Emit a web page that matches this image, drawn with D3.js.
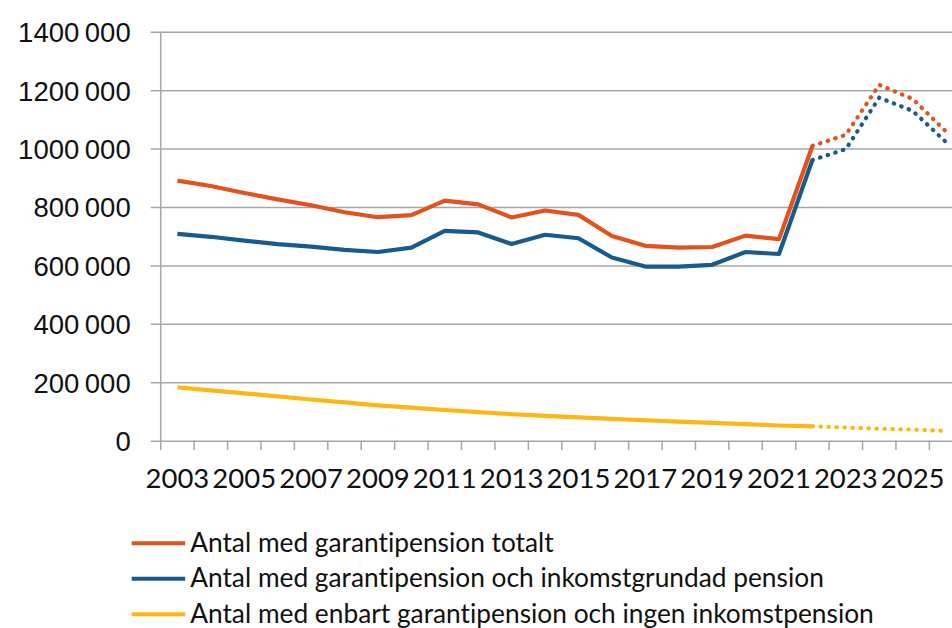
<!DOCTYPE html>
<html>
<head>
<meta charset="utf-8">
<script src="https://cdn.jsdelivr.net/npm/d3@7"></script>
<style>
  body { margin: 0; background: #fff; }
  svg { display: block; font-family: Lato, "Open Sans", sans-serif; font-variant-ligatures: none; }
</style>
</head>
<body>
<script>
// years on the category axis, 2003-2026 (2022 onward is forecast, drawn dotted)
var years = d3.range(2003, 2027);
var forecastFrom = 2022;

var totalt = [890000, 872000, 848000, 826000, 806000, 782000, 765000, 772000, 822000, 809000,
  764000, 788000, 773000, 701000, 667000, 661000, 663000, 702000, 690000, 1009000,
  1047000, 1218000, 1170000, 1058000];
var inkomst = [708000, 698000, 685000, 673000, 664000, 653000, 646000, 661000, 718000, 713000,
  673000, 705000, 693000, 627000, 596000, 596000, 602000, 646000, 639000, 961000,
  998000, 1174000, 1129000, 1022000];
var enbart = [183000, 172000, 162000, 152000, 141000, 131000, 121000, 113000, 105000, 98000,
  91000, 85000, 80000, 75000, 70000, 65000, 61000, 57000, 52000, 49000,
  45000, 41000, 38000, 34000];

var yTicks = [0, 200000, 400000, 600000, 800000, 1000000, 1200000, 1400000];
var xLabels = years.filter((d) => d % 2 === 1);

var series = [
  { name: "Antal med garantipension totalt", values: totalt, color: "#e1521c" },
  { name: "Antal med garantipension och inkomstgrundad pension", values: inkomst, color: "#165b8c" },
  { name: "Antal med enbart garantipension och ingen inkomstpension", values: enbart, color: "#ffb612" }
];

var width = 952, height = 628;

var svg = d3.select("body").append("svg").attr("width", width).attr("height", height);

var x = d3.scaleBand().domain(years).range([160.7, 962.8]);
var y = d3.scaleLinear().domain([0, 1400000]).range([440.7, 31.7]);

// "1400 000" style: only the last group is split off
var fmt = (d) => (d === 0 ? "0" : d / 1000 + "\u2009000");

// gridlines + y labels
var yAxis = svg.append("g")
  .attr("transform", "translate(160.7,0)")
  .call(d3.axisLeft(y).tickValues(yTicks).tickSize(-(width - 150)).tickPadding(30).tickFormat(fmt));
yAxis.select(".domain").remove();
yAxis.selectAll(".tick line").attr("x1", -10).attr("stroke", "#a6a6a6").attr("stroke-width", 1.5);
yAxis.selectAll(".tick text").attr("font-size", 27.5).attr("fill", "#111").attr("dy", "0.36em");

// y axis line
svg.append("line")
  .attr("x1", 160.7).attr("x2", 160.7).attr("y1", 31.7).attr("y2", 450)
  .attr("stroke", "#a6a6a6").attr("stroke-width", 1.5);

// x ticks at category boundaries
svg.append("g")
  .selectAll("line")
  .data(years.slice(1))
  .enter()
  .append("line")
  .attr("x1", (d) => x(d)).attr("x2", (d) => x(d))
  .attr("y1", 440.7).attr("y2", 450)
  .attr("stroke", "#a6a6a6").attr("stroke-width", 1.5);

svg.append("g")
  .selectAll("text")
  .data(xLabels)
  .enter()
  .append("text")
  .attr("x", (d) => x(d) + x.bandwidth() / 2)
  .attr("y", 488)
  .attr("text-anchor", "middle")
  .attr("font-size", 27.5)
  .attr("fill", "#111")
  .text((d) => d);

var line = d3.line()
  .x((d) => x(d.year) + x.bandwidth() / 2)
  .y((d) => y(d.value));

series.forEach((s) => {
  var pts = years.map((yr, i) => ({ year: yr, value: s.values[i] }));
  svg.append("path")
    .datum(pts.filter((d) => d.year <= forecastFrom))
    .attr("d", line)
    .attr("fill", "none")
    .attr("stroke", s.color)
    .attr("stroke-width", 4.2)
    .attr("stroke-linejoin", "round");
  svg.append("path")
    .datum(pts.filter((d) => d.year >= forecastFrom))
    .attr("d", line)
    .attr("fill", "none")
    .attr("stroke", s.color)
    .attr("stroke-width", 4.2)
    .attr("stroke-linecap", "round")
    .attr("stroke-dasharray", "0.5 7.5");
});

// legend
var legend = svg.append("g").attr("transform", "translate(131.7,543.3)");
var item = legend.selectAll("g")
  .data(series)
  .enter()
  .append("g")
  .attr("transform", (d, i) => `translate(0,${i * 35.5})`);
item.append("line")
  .attr("x1", 0).attr("x2", 53.5)
  .attr("stroke", (d) => d.color)
  .attr("stroke-width", 4);
item.append("text")
  .attr("x", 58.5)
  .attr("y", 8.4)
  .attr("font-size", 26.3)
  .attr("fill", "#111")
  .text((d) => d.name);
</script>
</body>
</html>
